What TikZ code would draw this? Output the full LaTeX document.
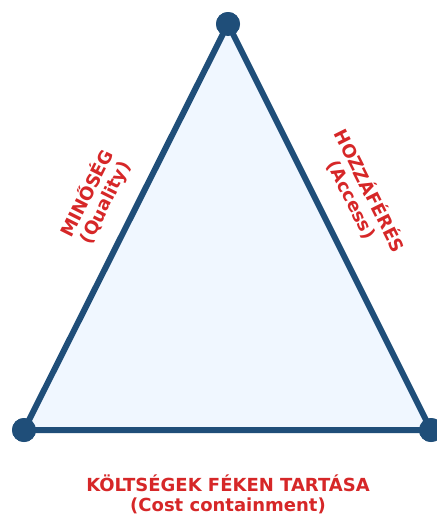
\documentclass[tikz,border=0pt]{standalone}
\usepackage{fontspec}
\setmainfont{DejaVu Sans}
\usepackage{tikz}
\usetikzlibrary{positioning}

\definecolor{edgeblue}{HTML}{1F4E79}
\definecolor{fillblue}{HTML}{F0F7FF}
\definecolor{labelred}{HTML}{D62728}

\begin{document}
\begin{tikzpicture}[
    x=1pt, y=-1pt,
    corner/.style={circle, fill=edgeblue, inner sep=0pt, minimum size=24pt},
    side/.style={font=\fontsize{18}{20}\selectfont\bfseries, text=labelred, align=center, inner sep=0pt}
]
\useasboundingbox (0,0) rectangle (437,515);

% Vertices
\node[corner] (top) at (228,24) {};
\node[corner] (bl) at (24,430) {};
\node[corner] (br) at (431,430) {};

% Triangle
\draw[edgeblue, line width=6pt, fill=fillblue, line join=round]
    (top.center) -- (br.center) -- (bl.center) -- cycle;
\node[corner] at (top) {};
\node[corner] at (bl) {};
\node[corner] at (br) {};

% Labels
\node[side, rotate=63.3] (quality) at (96,198) {MINŐSÉG\\(Quality)};
\node[side, rotate=-63.3] (access) at (361,195) {HOZZÁFÉRÉS\\(Access)};
\node[side] (cost) at (228,494) {KÖLTSÉGEK FÉKEN TARTÁSA\\(Cost containment)};

\end{tikzpicture}
\end{document}
